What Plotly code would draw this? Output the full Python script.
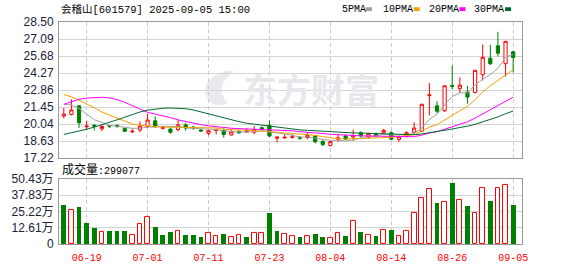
import plotly.graph_objects as go
import pandas as pd

# ---------------- data ----------------
dates = ["06-16","06-17","06-18","06-19","06-20","06-23","06-24","06-25","06-26","06-27","06-30",
         "07-01","07-02","07-03","07-04","07-07","07-08","07-09","07-10","07-11","07-14","07-15",
         "07-16","07-17","07-18","07-21","07-22","07-23","07-24","07-25","07-28","07-29","07-30","07-31",
         "08-01","08-04","08-05","08-06","08-07","08-08","08-11","08-12","08-13","08-14","08-15",
         "08-18","08-19","08-20","08-21","08-22","08-25","08-26","08-27","08-28","08-29",
         "09-01","09-02","09-03","09-04","09-05"]

opens = [20.72,20.85,21.56,19.82,19.95,19.66,19.93,19.95,19.69,19.40,
         19.56,19.85,20.32,19.70,19.64,19.59,19.98,19.80,19.56,19.28,
         19.53,19.51,19.14,19.45,19.40,19.37,19.75,19.94,18.88,18.90,
         18.95,18.95,18.93,19.06,18.62,18.27,18.80,19.06,18.98,19.33,
         18.97,19.22,19.33,19.33,18.78,19.01,19.37,19.45,22.40,21.56,
         21.16,23.25,23.00,22.69,22.66,24.14,25.50,26.53,25.05,26.03]
highs = [21.38,22.09,21.60,20.30,20.06,19.98,19.98,20.00,19.72,19.64,
         20.26,20.90,20.69,19.90,19.70,20.38,20.16,19.90,19.62,19.55,
         19.67,19.70,19.60,19.52,19.70,19.90,19.85,20.34,19.07,19.20,
         19.20,19.07,19.32,19.10,18.72,18.65,19.19,19.20,19.59,19.45,
         19.33,19.35,19.65,19.45,19.10,19.45,20.19,21.72,23.45,21.95,
         23.22,24.90,23.92,23.21,24.52,26.63,26.61,27.69,26.90,26.08]
lows = [20.51,20.76,19.72,19.59,19.51,19.46,19.72,19.74,19.40,19.33,
        19.37,19.72,19.72,19.60,19.25,19.45,19.51,19.58,19.40,19.12,
        19.19,18.93,19.10,19.25,19.32,19.19,19.50,18.98,18.53,18.85,
        18.85,18.75,18.80,18.45,18.22,18.20,18.58,18.75,18.66,18.95,
        18.85,18.95,19.25,18.70,18.58,18.95,19.32,19.40,20.77,20.95,
        21.05,22.92,22.61,21.74,22.60,23.66,24.93,25.64,23.98,24.32]
closes = [20.88,21.22,20.16,19.88,19.88,19.85,19.88,19.85,19.45,19.45,
          19.88,20.38,19.85,19.75,19.37,19.98,19.72,19.70,19.48,19.50,
          19.57,19.19,19.40,19.32,19.50,19.59,19.60,19.06,18.96,18.95,
          18.99,18.88,19.11,18.58,18.35,18.59,18.90,18.80,19.10,19.06,
          19.25,19.12,19.53,18.80,19.01,19.33,19.72,21.69,22.46,21.11,
          23.22,23.18,23.27,22.29,24.50,25.58,25.05,25.92,26.90,25.56]

# volume in 万 (10k)
volumes = [30.3,26.6,28.8,16.5,12.8,9.4,9.8,9.8,10.3,7.4,
           15.5,20.7,13.5,7.4,9.1,10.3,7.4,7.4,5.4,8.6,
           6.2,8.1,5.4,7.4,5.4,8.6,8.6,24.1,10.3,8.1,
           6.2,5.4,6.6,8.1,5.4,4.4,8.6,6.2,17.7,9.6,
           7.4,6.2,11.1,11.1,6.6,10.3,24.1,35.7,42.6,31.5,
           32.3,47.3,34.0,29.5,24.1,43.3,33.2,43.3,45.6,29.9077]
# 1 = red (up), 0 = green (down)
vol_up = [0,1,0,0,0,1,0,0,0,1,
          1,1,0,0,0,1,0,0,0,1,
          1,0,1,1,0,1,1,0,0,1,
          1,0,1,0,0,1,1,0,1,0,
          1,0,1,0,1,1,1,1,1,0,
          1,0,1,0,1,1,0,1,1,0]

# moving-average values before a full window exists
ma5_head = [21.69, 21.62, 21.35, 20.90]
ma10_head = [22.50, 22.30, 22.02, 21.72, 21.40, 21.05, 20.80, 20.60, 20.33]
ma20_head = [21.69, 21.92, 22.10, 22.20, 22.25, 22.27, 22.22, 22.08, 21.85, 21.58,
             21.25, 21.02, 20.88, 20.75, 20.58, 20.40, 20.25, 20.12, 20.00]
ma30_head = [19.19, 19.32, 19.46, 19.62, 19.80, 19.98, 20.18, 20.40, 20.62, 20.85,
             21.05, 21.20, 21.30, 21.36, 21.38, 21.37, 21.32, 21.22, 21.05, 20.90,
             20.72, 20.55, 20.40, 20.25, 20.12, 20.04, 19.95, 19.85, 19.78]

tick_dates = ["06-19", "07-01", "07-11", "07-23", "08-04", "08-14", "08-26", "09-05"]
price_ticks = [17.22, 18.63, 20.04, 21.45, 22.86, 24.27, 25.68, 27.09, 28.50]
vol_ticks = [0, 12.61, 25.22, 37.83, 50.43]
last_volume_text = "299077"

title_text = "会稽山[601579] 2025-09-05 15:00"
ma_names = ["5PMA", "10PMA", "20PMA", "30PMA"]
ma_colors = ["#a0a0a0", "#f5a000", "#ff00ff", "#00692c"]
watermark_text = "东方财富"

# ---------------- derived ----------------
idx = list(range(len(dates)))
cs = pd.Series(closes)


def ma(n, head):
    vals = cs.rolling(n).mean().tolist()
    for i, v in enumerate(head):
        vals[i] = v
    return vals


mas = [ma(5, ma5_head), ma(10, ma10_head), ma(20, ma20_head), ma(30, ma30_head)]
tick_idx = [dates.index(d) for d in tick_dates]

# ---------------- figure ----------------
W, H = 578, 276
ML, MR, MT, MB = 56, 56, 22, 21
PW, PH = W - ML - MR, H - MT - MB


def px_x(px):
    return (px - ML) / PW


def px_y(py):
    return (H - MB - py) / PH


fig = go.Figure()

fig.add_trace(go.Candlestick(
    x=idx, open=opens, high=highs, low=lows, close=closes,
    increasing=dict(line=dict(color="#ff0000", width=1), fillcolor="#ffffff"),
    decreasing=dict(line=dict(color="#008000", width=1), fillcolor="#008000"),
    whiskerwidth=0, xaxis="x", yaxis="y", showlegend=False, hoverinfo="skip"))

for name, col, vals in zip(ma_names, ma_colors, mas):
    fig.add_trace(go.Scatter(x=idx, y=vals, mode="lines", name=name,
                             line=dict(color=col, width=1), xaxis="x", yaxis="y",
                             showlegend=False, hoverinfo="skip"))

up_x = [i for i in idx if vol_up[i]]
dn_x = [i for i in idx if not vol_up[i]]
fig.add_trace(go.Bar(x=up_x, y=[volumes[i] for i in up_x], width=0.62,
                     marker=dict(color="#ffffff", line=dict(color="#ff0000", width=1)),
                     xaxis="x2", yaxis="y2", showlegend=False, hoverinfo="skip"))
fig.add_trace(go.Bar(x=dn_x, y=[volumes[i] for i in dn_x], width=0.62,
                     marker=dict(color="#008000", line=dict(color="#008000", width=0)),
                     xaxis="x2", yaxis="y2", showlegend=False, hoverinfo="skip"))

xrange = [-0.63, len(dates) + 0.16]
main_dom = [px_y(165), 1]
vol_dom = [0, px_y(186.7)]

axis_common = dict(showline=True, mirror=True, linecolor="#999999", linewidth=1,
                   zeroline=False, ticks="")
tickfont_y = dict(family="Liberation Sans, Noto Sans CJK SC", size=12, color="#20203a")

fig.update_layout(
    width=W, height=H, margin=dict(l=ML, r=MR, t=MT, b=MB),
    paper_bgcolor="#ffffff", plot_bgcolor="#ffffff",
    boxgap=0.4, bargap=0,
    xaxis=dict(domain=[0, 1], range=xrange, anchor="y", tickvals=tick_idx,
               showticklabels=False, showgrid=True, gridcolor="#cccccc",
               griddash="4px,3px", gridwidth=1, rangeslider=dict(visible=False),
               **axis_common),
    yaxis=dict(domain=main_dom, range=[price_ticks[0], price_ticks[-1]], anchor="x",
               tickvals=price_ticks, ticktext=[f"{v:.2f}" for v in price_ticks],
               showgrid=True, gridcolor="#d4d4d4", tickfont=tickfont_y,
               ticklabelstandoff=2, **axis_common),
    xaxis2=dict(domain=[0, 1], range=xrange, anchor="y2", matches="x",
                tickvals=tick_idx, ticktext=tick_dates,
                tickfont=dict(family="Liberation Mono", size=10, color="#ff0000"),
                showgrid=True, gridcolor="#cccccc", griddash="4px,3px", gridwidth=1,
                ticklabelstandoff=4, **axis_common),
    yaxis2=dict(domain=vol_dom, range=[vol_ticks[0], vol_ticks[-1]], anchor="x2",
                tickvals=vol_ticks,
                ticktext=["0"] + [f"{v:.2f}万" for v in vol_ticks[1:]],
                showgrid=True, gridcolor="#d4d4d4", tickfont=tickfont_y,
                ticklabelstandoff=2, **axis_common),
)

annotations = []
shapes = []
# title
annotations.append(dict(text=title_text, xref="paper", yref="paper",
                        x=px_x(56), y=px_y(9), xanchor="left", yanchor="middle",
                        showarrow=False,
                        font=dict(family="Liberation Mono, Noto Sans CJK SC", size=10.5,
                                  color="#000000")))
# legend
leg_text_x = [339, 380, 426, 472]
leg_box_x = [365, 413, 459, 505]
for name, col, tx, bx in zip(ma_names, ma_colors, leg_text_x, leg_box_x):
    annotations.append(dict(text=name, xref="paper", yref="paper",
                            x=px_x(tx), y=px_y(9), xanchor="left", yanchor="middle",
                            showarrow=False,
                            font=dict(family="Liberation Mono", size=10, color="#000000")))
    shapes.append(dict(type="rect", xref="paper", yref="paper",
                       x0=px_x(bx), x1=px_x(bx + 6), y0=px_y(10.5), y1=px_y(6.5),
                       fillcolor=col, line=dict(width=0)))
# volume label
annotations.append(dict(text=f"<span style='font-size:12px'>成交量</span>:{last_volume_text}",
                        xref="paper", yref="paper", x=px_x(57), y=px_y(177),
                        xanchor="left", yanchor="middle", showarrow=False,
                        font=dict(family="Liberation Mono, Noto Sans CJK SC", size=10,
                                  color="#000000")))
# watermark (logo swoosh + text)
def pts_path(pts):
    return "M " + " L ".join(f"{px_x(a):.5f},{px_y(b):.5f}" for a, b in pts) + " Z"

swoosh = [(206, 104), (203, 96), (204, 88), (209, 81), (217, 76), (226, 73), (232, 74),
          (226, 79), (221, 86), (219, 94), (222, 102), (226, 108), (218, 109), (211, 108)]
shapes.append(dict(type="path", xref="paper", yref="paper", path=pts_path(swoosh),
                   fillcolor="#e9e9ee", line=dict(width=0), layer="below"))
annotations.append(dict(text=watermark_text, xref="paper", yref="paper",
                        x=px_x(310), y=px_y(92), xanchor="center", yanchor="middle",
                        showarrow=False,
                        font=dict(family="Noto Sans CJK SC", size=34, color="#e8e8ec",
                                  weight=700)))

fig.update_layout(annotations=annotations, shapes=shapes)
fig.write_html("out.html")
